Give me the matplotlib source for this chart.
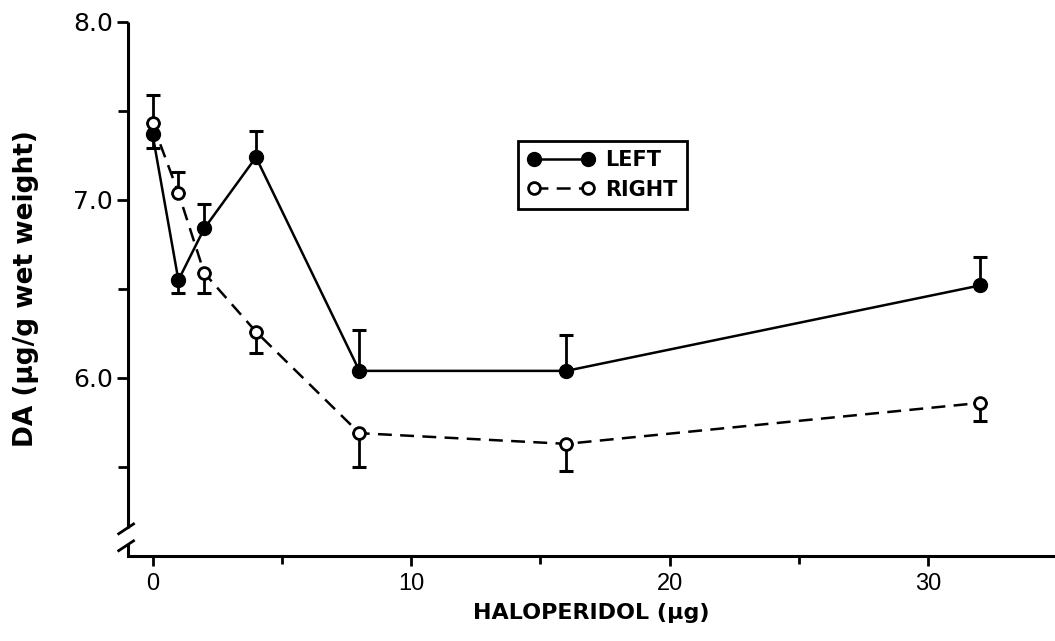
import matplotlib
matplotlib.use("Agg")
import matplotlib.pyplot as plt
from matplotlib import font_manager
import numpy as np

plt.rcParams['lines.scale_dashes'] = False

dose = [0, 1, 2, 4, 8, 16, 32]
left_mean = [7.37, 6.55, 6.84, 7.24, 6.04, 6.04, 6.52]
left_err_low = [0.08, 0.07, 0, 0, 0, 0, 0]
left_err_up = [0, 0, 0.14, 0.15, 0.23, 0.20, 0.16]
right_mean = [7.43, 7.04, 6.59, 6.26, 5.69, 5.63, 5.86]
right_err_low = [0, 0, 0.11, 0.12, 0.19, 0.15, 0.10]
right_err_up = [0.16, 0.12, 0, 0, 0, 0, 0]

yticks = [6.0, 7.0, 8.0]
ytick_labels = ["6.0", "7.0", "8.0"]
xticks = [0, 10, 20, 30]
xtick_labels = ["0", "10", "20", "30"]

names = {f.name for f in font_manager.fontManager.ttflist}
narrow = 'Liberation Sans Narrow' if 'Liberation Sans Narrow' in names else 'Liberation Sans'

fig = plt.figure(figsize=(10.55, 6.41), dpi=100)
ax = fig.add_axes([0.1213, 0.1326, 0.8787, 0.8331])

ebkw = dict(fmt='none', ecolor='black', elinewidth=2.0, capsize=5, capthick=2.2, zorder=2)
ax.errorbar(dose, left_mean, yerr=[left_err_low, left_err_up], **ebkw)
ax.errorbar(dose, right_mean, yerr=[right_err_low, right_err_up], **ebkw)

l1, = ax.plot(dose, left_mean, color='black', lw=1.8, marker='o', ms=10,
              mfc='black', mec='black', zorder=3, label='LEFT')
l2, = ax.plot(dose, right_mean, color='black', lw=1.8, ls=(0, (10, 6)), marker='o', ms=8.5,
              mfc='white', mec='black', mew=2, zorder=4, label='RIGHT')

ax.set_xlim(-0.95, 34.9)
ax.set_ylim(5.0, 8.0)

for s in ['top', 'right', 'left']:
    ax.spines[s].set_visible(False)
ax.spines['bottom'].set_linewidth(2.2)

# left axis with break
tr = ax.get_yaxis_transform()
ax.plot([0, 0], [5.16, 8.0], transform=tr, color='black', lw=2.2, clip_on=False, solid_capstyle='butt')
ax.plot([0, 0], [5.0, 5.065], transform=tr, color='black', lw=2.2, clip_on=False, solid_capstyle='butt')
for yb in [5.16, 5.065]:
    ax.plot([-0.01, 0.006], [yb - 0.035, yb + 0.02], transform=tr, color='black', lw=2,
            clip_on=False)

ax.set_yticks(yticks)
ax.set_yticklabels(ytick_labels, fontsize=18, family='DejaVu Sans')
ax.set_yticks([5.5, 6.5, 7.5], minor=True)
ax.set_xticks(xticks)
ax.set_xticklabels(xtick_labels, fontsize=17, family=narrow)
ax.set_xticks([5, 15, 25], minor=True)
ax.tick_params(axis='both', which='both', direction='out', width=2, color='black')
ax.tick_params(axis='y', which='major', length=8, pad=3)
ax.tick_params(axis='y', which='minor', length=7)
ax.tick_params(axis='x', which='major', length=7, pad=5)
ax.tick_params(axis='x', which='minor', length=6)

ax.set_xlabel('HALOPERIDOL (μg)', fontsize=16, fontweight='bold', family='DejaVu Sans', labelpad=6)
ax.set_ylabel('DA (μg/g wet weight)', fontsize=19, fontweight='bold', family='DejaVu Sans', labelpad=24)

leg = ax.legend(handles=[l1, l2], loc='upper left', bbox_to_anchor=(0.41, 0.797),
                numpoints=2, handlelength=3.2, frameon=True, fancybox=False, framealpha=1,
                prop={'family': 'DejaVu Sans', 'weight': 'bold', 'size': 15},
                borderpad=0.45, labelspacing=0.45, handletextpad=0.5)
leg.get_frame().set_edgecolor('black')
leg.get_frame().set_linewidth(2)

fig.savefig('out.png', dpi=100)
